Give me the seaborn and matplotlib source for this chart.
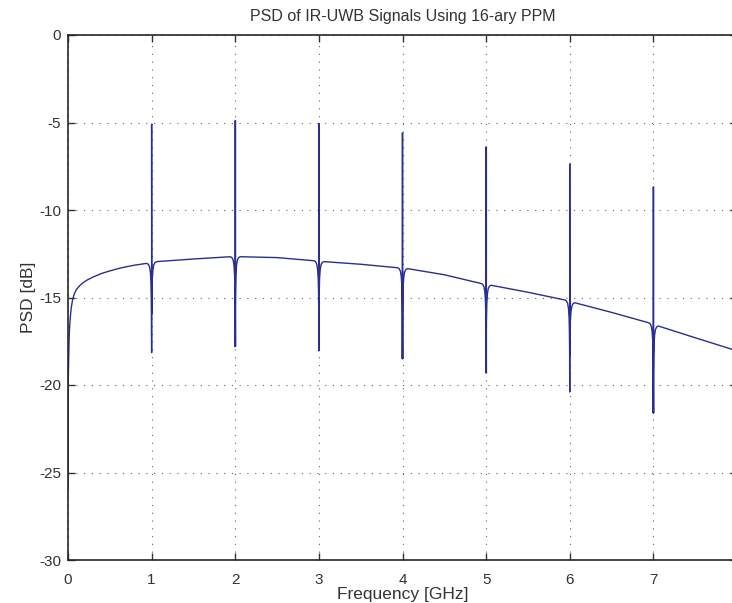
import numpy as np
import pandas as pd
import matplotlib
matplotlib.use("Agg")
import matplotlib.pyplot as plt
import seaborn as sns

# ---- data ----
title = "PSD of IR-UWB Signals Using 16-ary PPM"
x_label = "Frequency [GHz]"
y_label = "PSD [dB]"
x_ticks = [0, 1, 2, 3, 4, 5, 6, 7]
y_ticks = [-30, -25, -20, -15, -10, -5, 0]

# continuous spectrum (between the spectral lines)
start_f = [0.0, 0.002, 0.004, 0.008, 0.012, 0.016, 0.022, 0.03, 0.04, 0.056, 0.075,
           0.1, 0.135, 0.175, 0.23, 0.3, 0.4, 0.5, 0.6, 0.7, 0.8, 0.9]
start_db = [-26.0, -21.0, -19.5, -18.4, -17.6, -17.0, -16.5, -16.0, -15.55, -15.1, -14.8,
            -14.55, -14.35, -14.17, -14.0, -13.83, -13.63, -13.48, -13.35, -13.24, -13.15, -13.08]
mid_f = [1.5, 2.5, 3.5, 4.5, 5.5, 6.5, 7.5, 8.0]
mid_db = [-12.8, -12.72, -13.1, -13.7, -14.7, -15.85, -17.3, -18.05]

# discrete spectral lines at multiples of 1 GHz
line_f = [1, 2, 3, 4, 5, 6, 7]
line_top = [-5.1, -4.9, -5.05, -5.6, -6.4, -7.37, -8.7]
line_bottom = [-18.15, -17.8, -18.05, -18.5, -19.3, -20.4, -21.6]
base_left = [-13.05, -12.67, -12.9, -13.3, -14.2, -15.14, -16.44]
base_right = [-12.95, -12.67, -12.95, -13.35, -14.3, -15.3, -16.63]
line_samples = [1, 2, 1, 2, 2, 1, 2]

# shape of the notch around each line: (offset GHz, drop dB)
notch_off = [0.06, 0.04, 0.025, 0.015, 0.008, 0.004, 0.0015]
notch_drop = [0.0, 0.05, 0.2, 0.5, 1.0, 1.8, 3.0]

# ---- assemble the trace ----
fs, ds = list(start_f), list(start_db)
for i, k in enumerate(line_f):
    for o, d in zip(notch_off, notch_drop):
        fs.append(k - o); ds.append(base_left[i] - d)
    for s in range(line_samples[i]):
        off = (s - (line_samples[i] - 1) / 2) * 0.006
        fs += [k + off, k + off]
        ds += [line_bottom[i], line_top[i]] if s % 2 == 0 else [line_top[i], line_bottom[i]]
    for o, d in zip(reversed(notch_off), reversed(notch_drop)):
        fs.append(k + o); ds.append(base_right[i] - d)
    fs.append(mid_f[i]); ds.append(mid_db[i])
fs.append(mid_f[-1]); ds.append(mid_db[-1])

df = pd.DataFrame({"f": fs, "psd": ds})

# ---- plot ----
sns.set_style("ticks")
plt.rcParams["font.family"] = ["Liberation Sans", "DejaVu Sans"]

fig = plt.figure(figsize=(7.32, 6.03), dpi=100)
ax = fig.add_axes([68 / 732, 43 / 603, 669 / 732, 525 / 603])

sns.lineplot(data=df, x="f", y="psd", sort=False, estimator=None,
             color="#2a2d92", linewidth=1.0, ax=ax)

ax.set_xlim(0, 8)
ax.set_ylim(-30, 0)
ax.set_xticks(x_ticks)
ax.set_yticks(y_ticks)
ax.set_xticklabels([str(t) for t in x_ticks])
ax.set_yticklabels([str(t) for t in y_ticks])

ax.grid(True, linestyle=(0, (1, 6)), linewidth=0.8, color="#666666")
ax.tick_params(direction="in", length=5, width=1.0, top=True, right=True,
               labelsize=11, colors="#333333")
ax.tick_params(axis="x", pad=9)
ax.tick_params(axis="y", pad=5)
for sp in ax.spines.values():
    sp.set_visible(True)
    sp.set_linewidth(1.2)
    sp.set_color("#262626")

ax.set_title(title, fontsize=11.5, color="#333333", pad=10)
ax.set_xlabel(x_label, fontsize=12.5, color="#333333", labelpad=0)
ax.set_ylabel(y_label, fontsize=12.5, color="#333333", labelpad=2)

fig.savefig("out.png", dpi=100)
